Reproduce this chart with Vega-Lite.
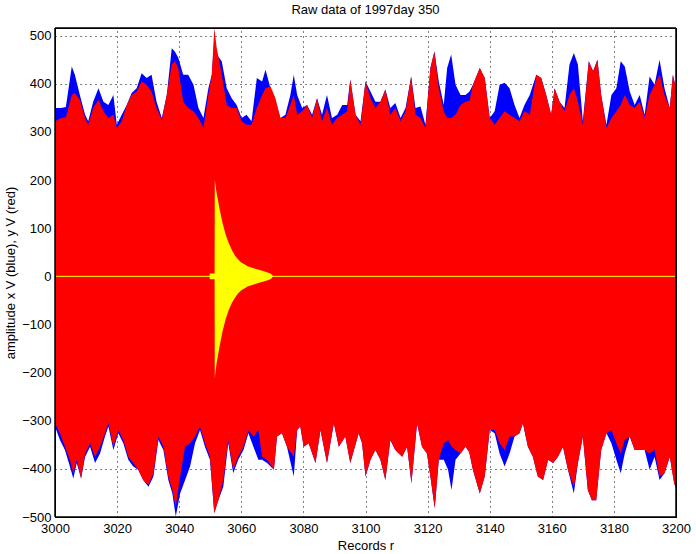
{
  "$schema": "https://vega.github.io/schema/vega-lite/v6.json",
  "autosize": {"type": "none"},
  "padding": {"left": 55, "top": 28, "right": 20, "bottom": 37},
  "width": 621,
  "height": 489,
  "background": "white",
  "title": {"text": "Raw data of 1997day 350", "fontSize": 13, "fontWeight": "normal", "font": "Liberation Sans", "color": "black", "offset": 10, "anchor": "middle"},
  "config": {
    "view": {"stroke": "black", "strokeWidth": 1},
    "axis": {"labelFont": "Liberation Sans", "titleFont": "Liberation Sans", "labelFontSize": 13, "titleFontSize": 13, "titleFontWeight": "normal", "labelColor": "black", "titleColor": "black", "labelFlush": false}
  },
  "datasets": {
    "top": [
      {"r": 3000, "blue": 350, "red": 322}, {"r": 3002, "blue": 350, "red": 329}, {"r": 3003.5, "blue": 352, "red": 330},
      {"r": 3005.4, "blue": 436, "red": 377}, {"r": 3006.4, "blue": 419, "red": 381}, {"r": 3008, "blue": 377, "red": 367},
      {"r": 3009.7, "blue": 336, "red": 329}, {"r": 3010.7, "blue": 322, "red": 315}, {"r": 3012.3, "blue": 363, "red": 350},
      {"r": 3014, "blue": 391, "red": 367}, {"r": 3015.6, "blue": 363, "red": 343}, {"r": 3017.2, "blue": 356, "red": 329},
      {"r": 3018.8, "blue": 377, "red": 336}, {"r": 3019.9, "blue": 315, "red": 308}, {"r": 3021.5, "blue": 336, "red": 322},
      {"r": 3023.1, "blue": 356, "red": 356}, {"r": 3024.7, "blue": 381, "red": 377}, {"r": 3026.3, "blue": 391, "red": 384},
      {"r": 3027.9, "blue": 422, "red": 405}, {"r": 3029.5, "blue": 412, "red": 398}, {"r": 3031.1, "blue": 419, "red": 384},
      {"r": 3032.7, "blue": 363, "red": 350}, {"r": 3034.4, "blue": 329, "red": 325}, {"r": 3036, "blue": 377, "red": 377},
      {"r": 3037.6, "blue": 474, "red": 440}, {"r": 3038.6, "blue": 467, "red": 447}, {"r": 3039.7, "blue": 454, "red": 433},
      {"r": 3041.3, "blue": 419, "red": 363}, {"r": 3042.9, "blue": 419, "red": 350}, {"r": 3044.6, "blue": 398, "red": 343},
      {"r": 3046.2, "blue": 350, "red": 329}, {"r": 3047.8, "blue": 329, "red": 308}, {"r": 3049.4, "blue": 391, "red": 377},
      {"r": 3050.5, "blue": 419, "red": 419}, {"r": 3051.3, "blue": 495, "red": 516}, {"r": 3052.1, "blue": 461, "red": 474},
      {"r": 3053.7, "blue": 447, "red": 419}, {"r": 3055.3, "blue": 391, "red": 356}, {"r": 3056.9, "blue": 370, "red": 350},
      {"r": 3058.5, "blue": 356, "red": 350}, {"r": 3060.1, "blue": 329, "red": 322}, {"r": 3061.7, "blue": 336, "red": 315},
      {"r": 3063.3, "blue": 322, "red": 315}, {"r": 3065, "blue": 412, "red": 350}, {"r": 3066.7, "blue": 405, "red": 377},
      {"r": 3067.8, "blue": 429, "red": 391}, {"r": 3069.4, "blue": 391, "red": 395}, {"r": 3071, "blue": 363, "red": 370},
      {"r": 3072.6, "blue": 329, "red": 329}, {"r": 3074.2, "blue": 336, "red": 329}, {"r": 3075.8, "blue": 377, "red": 356},
      {"r": 3076.9, "blue": 419, "red": 377}, {"r": 3078, "blue": 377, "red": 336}, {"r": 3079.6, "blue": 350, "red": 343},
      {"r": 3081.2, "blue": 356, "red": 356}, {"r": 3082.8, "blue": 336, "red": 329}, {"r": 3084.4, "blue": 370, "red": 370},
      {"r": 3086, "blue": 336, "red": 322}, {"r": 3087.6, "blue": 377, "red": 350}, {"r": 3089.2, "blue": 329, "red": 315},
      {"r": 3090.9, "blue": 336, "red": 329}, {"r": 3092.5, "blue": 356, "red": 336}, {"r": 3094.1, "blue": 356, "red": 343},
      {"r": 3095.1, "blue": 409, "red": 409}, {"r": 3096.8, "blue": 336, "red": 336}, {"r": 3098.4, "blue": 322, "red": 315},
      {"r": 3100, "blue": 405, "red": 405}, {"r": 3101.6, "blue": 384, "red": 370}, {"r": 3103.2, "blue": 363, "red": 350},
      {"r": 3104.8, "blue": 363, "red": 363}, {"r": 3106.4, "blue": 388, "red": 388}, {"r": 3108, "blue": 350, "red": 336},
      {"r": 3109.6, "blue": 360, "red": 350}, {"r": 3111.3, "blue": 329, "red": 322}, {"r": 3112.9, "blue": 350, "red": 343},
      {"r": 3114.7, "blue": 415, "red": 415}, {"r": 3116.1, "blue": 350, "red": 336}, {"r": 3117.7, "blue": 353, "red": 329},
      {"r": 3119.3, "blue": 315, "red": 308}, {"r": 3120.9, "blue": 433, "red": 433}, {"r": 3122.2, "blue": 467, "red": 467},
      {"r": 3123.6, "blue": 405, "red": 391}, {"r": 3125.2, "blue": 356, "red": 343}, {"r": 3126.3, "blue": 433, "red": 329},
      {"r": 3127.6, "blue": 461, "red": 329}, {"r": 3129, "blue": 398, "red": 336}, {"r": 3130.6, "blue": 377, "red": 356},
      {"r": 3132.2, "blue": 377, "red": 363}, {"r": 3133.5, "blue": 384, "red": 365}, {"r": 3134.6, "blue": 398, "red": 398},
      {"r": 3136.8, "blue": 433, "red": 433}, {"r": 3138.4, "blue": 412, "red": 412}, {"r": 3140, "blue": 329, "red": 329},
      {"r": 3141.6, "blue": 343, "red": 315}, {"r": 3143.2, "blue": 398, "red": 329}, {"r": 3144.8, "blue": 402, "red": 343},
      {"r": 3146.4, "blue": 391, "red": 336}, {"r": 3148, "blue": 356, "red": 329}, {"r": 3149.6, "blue": 329, "red": 322},
      {"r": 3151.2, "blue": 356, "red": 343}, {"r": 3152.9, "blue": 377, "red": 336}, {"r": 3155, "blue": 419, "red": 419},
      {"r": 3156.6, "blue": 412, "red": 412}, {"r": 3158.2, "blue": 377, "red": 377}, {"r": 3159.8, "blue": 336, "red": 336},
      {"r": 3160.9, "blue": 391, "red": 391}, {"r": 3162.5, "blue": 363, "red": 363}, {"r": 3164.1, "blue": 350, "red": 343},
      {"r": 3165.7, "blue": 440, "red": 377}, {"r": 3167.1, "blue": 464, "red": 391}, {"r": 3168.4, "blue": 440, "red": 363},
      {"r": 3170, "blue": 322, "red": 315}, {"r": 3171.9, "blue": 447, "red": 447}, {"r": 3173.3, "blue": 426, "red": 426},
      {"r": 3174.7, "blue": 450, "red": 450}, {"r": 3175.9, "blue": 377, "red": 377}, {"r": 3177.6, "blue": 315, "red": 308},
      {"r": 3179.2, "blue": 377, "red": 329}, {"r": 3180.8, "blue": 391, "red": 343}, {"r": 3182.2, "blue": 447, "red": 356},
      {"r": 3183.5, "blue": 436, "red": 377}, {"r": 3185.1, "blue": 384, "red": 356}, {"r": 3186.7, "blue": 356, "red": 350},
      {"r": 3188.3, "blue": 377, "red": 363}, {"r": 3189.9, "blue": 336, "red": 329}, {"r": 3191.5, "blue": 415, "red": 377},
      {"r": 3193.1, "blue": 398, "red": 398}, {"r": 3194.7, "blue": 450, "red": 419}, {"r": 3196.3, "blue": 391, "red": 377},
      {"r": 3198, "blue": 350, "red": 350}, {"r": 3199, "blue": 419, "red": 419}, {"r": 3200, "blue": 391, "red": 391}
    ],
    "bot": [
      {"r": 3000, "blue": -312, "red": -305}, {"r": 3001.6, "blue": -340, "red": -326}, {"r": 3003.2, "blue": -361, "red": -354},
      {"r": 3004.8, "blue": -395, "red": -381}, {"r": 3005.9, "blue": -420, "red": -409}, {"r": 3007, "blue": -388, "red": -381},
      {"r": 3008.4, "blue": -420, "red": -420}, {"r": 3009.7, "blue": -375, "red": -368}, {"r": 3011.3, "blue": -354, "red": -347},
      {"r": 3012.9, "blue": -388, "red": -375}, {"r": 3014.5, "blue": -368, "red": -354}, {"r": 3016.1, "blue": -333, "red": -326},
      {"r": 3017.2, "blue": -312, "red": -305}, {"r": 3018.8, "blue": -361, "red": -354}, {"r": 3020.4, "blue": -326, "red": -319},
      {"r": 3022, "blue": -347, "red": -340}, {"r": 3023.6, "blue": -381, "red": -375}, {"r": 3025.2, "blue": -395, "red": -388},
      {"r": 3026.8, "blue": -402, "red": -402}, {"r": 3028.4, "blue": -423, "red": -423}, {"r": 3030.1, "blue": -437, "red": -433},
      {"r": 3031.7, "blue": -416, "red": -409}, {"r": 3033.3, "blue": -340, "red": -333}, {"r": 3034.9, "blue": -361, "red": -354},
      {"r": 3036.5, "blue": -423, "red": -416}, {"r": 3037.8, "blue": -451, "red": -444}, {"r": 3038.9, "blue": -499, "red": -478},
      {"r": 3040.3, "blue": -451, "red": -416}, {"r": 3041.9, "blue": -423, "red": -354}, {"r": 3043.5, "blue": -395, "red": -347},
      {"r": 3045.1, "blue": -347, "red": -333}, {"r": 3046.7, "blue": -319, "red": -312}, {"r": 3048.3, "blue": -354, "red": -347},
      {"r": 3049.9, "blue": -381, "red": -375}, {"r": 3051.3, "blue": -492, "red": -492}, {"r": 3052.6, "blue": -465, "red": -465},
      {"r": 3054.2, "blue": -437, "red": -423}, {"r": 3055.8, "blue": -347, "red": -340}, {"r": 3057.4, "blue": -409, "red": -402},
      {"r": 3059, "blue": -381, "red": -375}, {"r": 3060.7, "blue": -361, "red": -354}, {"r": 3062.3, "blue": -326, "red": -319},
      {"r": 3063.9, "blue": -354, "red": -333}, {"r": 3065.5, "blue": -381, "red": -319}, {"r": 3066.7, "blue": -381, "red": -375},
      {"r": 3068.3, "blue": -388, "red": -381}, {"r": 3070.5, "blue": -402, "red": -402}, {"r": 3071.5, "blue": -333, "red": -333},
      {"r": 3073.1, "blue": -326, "red": -326}, {"r": 3074.7, "blue": -354, "red": -354}, {"r": 3076.9, "blue": -416, "red": -375},
      {"r": 3078, "blue": -319, "red": -319}, {"r": 3079, "blue": -312, "red": -312}, {"r": 3080.1, "blue": -354, "red": -354},
      {"r": 3081.7, "blue": -347, "red": -347}, {"r": 3083.9, "blue": -388, "red": -388}, {"r": 3085.5, "blue": -319, "red": -319},
      {"r": 3087.6, "blue": -388, "red": -388}, {"r": 3089.8, "blue": -305, "red": -305}, {"r": 3091.4, "blue": -354, "red": -354},
      {"r": 3093.5, "blue": -333, "red": -333}, {"r": 3095.1, "blue": -388, "red": -388}, {"r": 3097.8, "blue": -326, "red": -326},
      {"r": 3098.9, "blue": -347, "red": -347}, {"r": 3100, "blue": -416, "red": -416}, {"r": 3101.6, "blue": -381, "red": -381},
      {"r": 3103.2, "blue": -361, "red": -361}, {"r": 3104.8, "blue": -381, "red": -381}, {"r": 3106.4, "blue": -423, "red": -423},
      {"r": 3108, "blue": -340, "red": -340}, {"r": 3109.6, "blue": -361, "red": -361}, {"r": 3111.8, "blue": -375, "red": -375},
      {"r": 3113.4, "blue": -354, "red": -354}, {"r": 3114.8, "blue": -430, "red": -430}, {"r": 3116.6, "blue": -305, "red": -305},
      {"r": 3118.2, "blue": -354, "red": -354}, {"r": 3119.8, "blue": -368, "red": -368}, {"r": 3120.9, "blue": -416, "red": -416},
      {"r": 3122.3, "blue": -482, "red": -482}, {"r": 3123.6, "blue": -381, "red": -381}, {"r": 3125.2, "blue": -381, "red": -347},
      {"r": 3126.6, "blue": -402, "red": -340}, {"r": 3127.7, "blue": -444, "red": -354}, {"r": 3129, "blue": -381, "red": -361},
      {"r": 3130.6, "blue": -368, "red": -368}, {"r": 3132.2, "blue": -354, "red": -354}, {"r": 3133.4, "blue": -365, "red": -365},
      {"r": 3134.6, "blue": -402, "red": -402}, {"r": 3136.8, "blue": -451, "red": -451}, {"r": 3138.4, "blue": -416, "red": -416},
      {"r": 3140, "blue": -319, "red": -319}, {"r": 3141.6, "blue": -326, "red": -319}, {"r": 3143.2, "blue": -368, "red": -347},
      {"r": 3144.8, "blue": -395, "red": -361}, {"r": 3146.4, "blue": -368, "red": -333}, {"r": 3148, "blue": -333, "red": -333},
      {"r": 3149.6, "blue": -326, "red": -326}, {"r": 3150.7, "blue": -305, "red": -305}, {"r": 3152.3, "blue": -354, "red": -354},
      {"r": 3153.9, "blue": -375, "red": -375}, {"r": 3155.5, "blue": -416, "red": -416}, {"r": 3157.2, "blue": -423, "red": -423},
      {"r": 3158.8, "blue": -381, "red": -381}, {"r": 3160.4, "blue": -388, "red": -388}, {"r": 3162, "blue": -375, "red": -375},
      {"r": 3163.6, "blue": -354, "red": -354}, {"r": 3165.2, "blue": -402, "red": -402}, {"r": 3167.1, "blue": -451, "red": -437},
      {"r": 3168.4, "blue": -388, "red": -388}, {"r": 3170, "blue": -333, "red": -333}, {"r": 3171.6, "blue": -444, "red": -444},
      {"r": 3172.9, "blue": -465, "red": -465}, {"r": 3174.3, "blue": -465, "red": -465}, {"r": 3175.9, "blue": -361, "red": -361},
      {"r": 3177.6, "blue": -326, "red": -326}, {"r": 3179.2, "blue": -347, "red": -319}, {"r": 3180.8, "blue": -381, "red": -347},
      {"r": 3182.2, "blue": -409, "red": -368}, {"r": 3183.5, "blue": -368, "red": -340}, {"r": 3185.1, "blue": -333, "red": -333},
      {"r": 3186.7, "blue": -361, "red": -361}, {"r": 3188.3, "blue": -361, "red": -361}, {"r": 3189.9, "blue": -361, "red": -361},
      {"r": 3191.5, "blue": -402, "red": -368}, {"r": 3193.1, "blue": -375, "red": -361}, {"r": 3194.7, "blue": -423, "red": -416},
      {"r": 3196.3, "blue": -409, "red": -409}, {"r": 3198, "blue": -375, "red": -375}, {"r": 3199.4, "blue": -430, "red": -430},
      {"r": 3200, "blue": -440, "red": -440}
    ],
    "yel": [
      {"r": 3049.8, "hi": 0, "lo": 0}, {"r": 3049.85, "hi": 6, "lo": -6}, {"r": 3051.4, "hi": 6, "lo": -6},
      {"r": 3051.45, "hi": 201, "lo": -212}, {"r": 3052, "hi": 175, "lo": -182}, {"r": 3053, "hi": 140, "lo": -145},
      {"r": 3054, "hi": 110, "lo": -113}, {"r": 3055, "hi": 86, "lo": -88}, {"r": 3056, "hi": 68, "lo": -69},
      {"r": 3057, "hi": 54, "lo": -55}, {"r": 3058, "hi": 43, "lo": -44}, {"r": 3059, "hi": 35, "lo": -35},
      {"r": 3060, "hi": 29, "lo": -29}, {"r": 3061, "hi": 25, "lo": -25}, {"r": 3062, "hi": 21, "lo": -21},
      {"r": 3063, "hi": 19, "lo": -19}, {"r": 3064, "hi": 17, "lo": -17}, {"r": 3065, "hi": 15, "lo": -15},
      {"r": 3066, "hi": 13, "lo": -13}, {"r": 3067, "hi": 11, "lo": -11}, {"r": 3068, "hi": 9, "lo": -9},
      {"r": 3069, "hi": 7, "lo": -7}, {"r": 3069.6, "hi": 5, "lo": -5}, {"r": 3070.3, "hi": 0, "lo": 0}
    ],
    "zero": [{"z": 0}],
    "frame": [
      {"k": "l", "x1": 3000, "x2": 3000, "y1": -500, "y2": 516},
      {"k": "r", "x1": 3200, "x2": 3200, "y1": -500, "y2": 516},
      {"k": "b", "x1": 3000, "x2": 3200, "y1": -500, "y2": -500},
      {"k": "t", "x1": 3000, "x2": 3200, "y1": 516, "y2": 516}
    ]
  },
  "resolve": {"axis": {"x": "independent", "y": "independent"}},
  "layer": [
    {
      "data": {"name": "top"},
      "mark": {"type": "area", "color": "#0000ff"},
      "encoding": {
        "x": {"field": "r", "type": "quantitative", "scale": {"domain": [3000, 3200], "nice": false, "zero": false},
              "axis": {"orient": "top", "values": [3000, 3020, 3040, 3060, 3080, 3100, 3120, 3140, 3160, 3180, 3200], "grid": true, "gridColor": "black", "gridDash": [1, 4], "gridOpacity": 1, "labels": false, "ticks": false, "domain": false, "title": null}},
        "y": {"field": "blue", "type": "quantitative", "scale": {"domain": [-500, 516], "nice": false, "zero": false},
              "axis": {"orient": "right", "values": [-500, -400, -300, -200, -100, 0, 100, 200, 300, 400, 500], "grid": true, "gridColor": "black", "gridDash": [1, 4], "gridOpacity": 1, "labels": false, "ticks": false, "domain": false, "title": null}},
        "y2": {"datum": 0}
      }
    },
    {
      "data": {"name": "bot"},
      "mark": {"type": "area", "color": "#0000ff"},
      "encoding": {
        "x": {"field": "r", "type": "quantitative", "axis": null},
        "y": {"field": "blue", "type": "quantitative", "axis": null},
        "y2": {"datum": 0}
      }
    },
    {
      "data": {"name": "top"},
      "mark": {"type": "area", "color": "#ff0000"},
      "encoding": {
        "x": {"field": "r", "type": "quantitative", "axis": null},
        "y": {"field": "red", "type": "quantitative", "axis": null},
        "y2": {"datum": 0}
      }
    },
    {
      "data": {"name": "bot"},
      "mark": {"type": "area", "color": "#ff0000"},
      "encoding": {
        "x": {"field": "r", "type": "quantitative", "axis": null},
        "y": {"field": "red", "type": "quantitative", "axis": null},
        "y2": {"datum": 0}
      }
    },
    {
      "data": {"name": "yel"},
      "mark": {"type": "area", "color": "#ffff00"},
      "encoding": {
        "x": {"field": "r", "type": "quantitative", "axis": null},
        "y": {"field": "hi", "type": "quantitative", "axis": null},
        "y2": {"field": "lo"}
      }
    },
    {
      "data": {"name": "zero"},
      "mark": {"type": "rule", "color": "#ffff00", "strokeWidth": 1},
      "encoding": {
        "y": {"field": "z", "type": "quantitative", "axis": null}
      }
    },
    {
      "data": {"name": "frame"},
      "mark": {"type": "rule", "color": "#000000", "strokeWidth": 1.5, "opacity": 1},
      "encoding": {
        "x": {"field": "x1", "type": "quantitative",
              "axis": {"orient": "bottom", "values": [3000, 3020, 3040, 3060, 3080, 3100, 3120, 3140, 3160, 3180, 3200], "format": "d", "grid": false, "ticks": false, "domain": true, "domainColor": "black", "domainWidth": 1, "labelPadding": 5, "title": "Records r", "titlePadding": 4, "zindex": 1}},
        "x2": {"field": "x2"},
        "y": {"field": "y1", "type": "quantitative",
              "axis": {"orient": "left", "values": [-500, -400, -300, -200, -100, 0, 100, 200, 300, 400, 500], "format": "d", "grid": false, "ticks": false, "domain": true, "domainColor": "black", "domainWidth": 1, "labelPadding": 4, "title": "amplitude x V (blue), y V (red)", "titlePadding": 4, "zindex": 1}},
        "y2": {"field": "y2"}
      }
    }
  ]
}
